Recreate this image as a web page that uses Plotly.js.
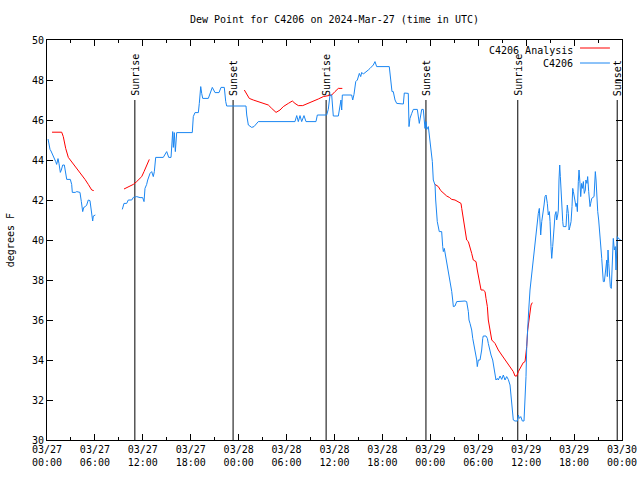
<!DOCTYPE html>
<html>
<head>
<meta charset="utf-8">
<script src="https://cdn.plot.ly/plotly-3.0.1.min.js"></script>
<style>html,body{margin:0;padding:0;background:#fff}#chart{width:640px;height:480px}</style>
</head>
<body>
<div id="chart"></div>
<script>
// Hours since 2024-03-27 00:00 UTC
const tickHours = [0,6,12,18,24,30,36,42,48,54,60,66,72];
const tickLabels = ["03/27<br>00:00","03/27<br>06:00","03/27<br>12:00","03/27<br>18:00",
  "03/28<br>00:00","03/28<br>06:00","03/28<br>12:00","03/28<br>18:00",
  "03/29<br>00:00","03/29<br>06:00","03/29<br>12:00","03/29<br>18:00","03/30<br>00:00"];

const eventHours = [11.0, 23.3, 34.95, 47.45, 58.95, 71.4];
const eventLabels = ["Sunrise","Sunset","Sunrise","Sunset","Sunrise","Sunset"];

const analysisHours = [0.63,1.84,2.04,2.34,2.67,3.09,3.51,3.92,4.35,4.76,5.17,5.60,5.85,
  7.5,
  9.64,10.18,10.81,11.23,11.56,11.86,12.15,12.40,12.61,12.81,
  18.0,
  24.71,25.01,25.33,25.83,26.46,27.09,27.71,28.14,28.68,29.18,29.59,30.22,30.72,31.05,31.47,32.02,32.72,33.35,33.97,34.60,35.22,35.65,36.06,36.48,36.98,
  42.0,
  48.59,49.00,49.30,49.63,50.05,50.38,50.68,51.09,51.50,51.84,51.93,52.13,52.34,52.55,52.76,52.97,53.18,53.38,53.72,53.88,54.13,54.35,54.63,54.85,54.97,55.14,55.26,55.47,55.69,56.10,56.51,56.94,57.35,57.64,57.98,58.39,58.60,58.82,59.02,59.32,59.64,59.86,60.07,60.19,60.36,60.48,60.61,60.77];
const analysisValues = [45.39,45.39,45.17,44.58,44.13,43.92,43.67,43.47,43.25,43.03,42.78,42.50,42.47,
  null,
  42.55,42.67,42.78,42.92,43.03,43.17,43.42,43.67,43.92,44.03,
  null,
  47.50,47.30,47.08,47.00,46.92,46.83,46.75,46.58,46.38,46.50,46.67,46.83,46.95,46.83,46.72,46.72,46.83,46.95,47.05,47.17,47.22,47.25,47.42,47.58,47.58,
  null,
  42.78,42.67,42.47,42.33,42.20,42.13,42.03,42.00,41.92,41.83,41.58,41.08,40.67,40.00,39.92,39.67,39.33,39.00,38.92,38.50,38.00,37.50,37.50,37.42,37.08,36.67,36.00,35.42,35.00,34.83,34.50,34.25,34.00,33.83,33.67,33.42,33.20,33.20,33.42,33.67,33.87,33.92,34.67,35.50,36.00,36.50,36.75,36.87];

const obsHours = [0.13,0.21,0.38,0.50,0.71,0.88,1.09,1.21,1.38,1.50,1.67,1.79,1.97,2.17,2.29,2.47,2.92,3.09,3.17,3.54,3.72,4.13,4.30,4.47,4.60,4.80,4.97,5.17,5.38,5.55,5.72,5.80,6.05,
  7.5,
  9.43,9.64,9.98,10.18,10.61,10.81,11.23,11.65,11.98,12.15,12.27,12.48,12.61,12.90,13.11,13.31,13.44,13.61,14.15,14.56,14.99,15.24,15.53,15.61,15.74,15.82,15.94,16.07,16.24,18.19,18.32,18.53,18.95,19.07,19.16,19.25,19.37,19.50,20.20,20.41,20.70,21.04,21.54,21.79,22.20,22.38,22.50,
  24.92,25.01,25.21,25.63,25.92,26.17,26.46,31.05,31.27,31.47,31.68,31.89,32.18,32.43,33.68,33.85,35.02,35.22,35.44,35.65,35.85,36.48,36.69,36.81,36.90,36.98,
  38.15,38.28,38.44,38.66,38.86,38.98,39.11,39.28,39.41,39.61,39.91,40.23,40.45,40.66,40.86,41.07,41.28,42.86,42.95,43.08,43.20,43.36,43.58,43.79,44.20,44.62,44.74,45.24,45.33,45.45,45.67,45.87,46.37,46.50,46.62,46.80,46.92,47.12,47.21,47.33,47.46,47.55,47.75,
  47.96,48.08,48.25,48.37,48.59,48.67,48.80,48.87,49.12,49.42,49.55,49.63,49.75,49.93,50.05,50.25,50.38,50.55,50.68,50.80,50.88,51.09,51.30,52.34,52.55,52.76,52.84,52.97,53.18,53.31,53.47,53.72,53.81,53.88,54.01,54.22,54.43,54.56,54.63,54.97,55.14,55.26,55.47,55.60,55.81,55.97,56.10,56.22,56.39,56.51,56.73,56.94,57.14,57.35,57.56,57.76,57.98,58.10,58.27,58.39,58.60,58.89,59.02,59.14,59.32,59.52,59.73,59.86,59.98,60.07,60.19,60.32,60.48,60.69,60.90,61.11,61.32,61.52,61.65,61.73,61.82,61.95,62.07,62.24,62.36,62.49,62.65,62.77,62.90,62.99,63.11,63.20,63.32,63.49,63.61,63.74,63.82,63.95,64.03,64.11,64.20,64.28,64.45,64.58,64.65,64.99,65.08,65.15,65.28,65.37,65.49,65.62,65.74,65.83,65.91,65.99,66.12,66.24,66.33,66.41,66.53,66.62,66.74,66.83,66.95,67.08,67.16,67.28,67.41,67.48,67.61,67.70,67.83,67.91,68.00,68.08,68.21,68.50,68.58,68.66,68.75,68.83,68.96,69.08,69.21,69.33,69.46,69.58,69.66,69.79,69.87,70.00,70.09,70.16,70.25,70.34,70.41,70.54,70.66,70.79,70.91,71.04,71.16,71.25,71.33,71.41,71.54,71.84];
const obsValues = [45.05,44.87,44.53,44.45,44.28,44.07,43.92,43.78,44.07,43.83,43.38,43.50,43.75,43.75,43.42,43.03,43.03,42.78,42.38,42.38,42.42,42.38,41.92,41.42,41.63,41.67,41.75,42.00,41.97,41.33,40.95,41.20,41.25,
  null,
  41.53,41.83,41.83,42.00,42.00,42.13,42.17,42.12,42.12,41.92,42.58,42.78,43.00,43.33,43.42,43.17,43.42,44.13,44.13,44.13,44.42,44.13,44.13,44.92,45.42,44.63,45.37,44.42,45.37,45.37,46.17,46.37,46.37,46.83,47.17,47.67,47.33,47.08,47.08,47.33,47.63,47.37,47.37,47.63,47.63,46.92,46.70,
  46.70,46.25,45.75,45.63,45.67,45.78,45.92,45.92,46.22,45.92,46.22,45.92,46.22,45.92,45.92,46.25,46.25,46.53,47.25,47.25,46.20,46.20,46.67,47.00,46.50,47.25,
  47.25,47.00,47.28,47.92,48.00,48.17,48.33,48.17,48.38,48.30,48.42,48.50,48.58,48.67,48.75,48.92,48.67,48.67,48.33,47.83,47.42,47.42,47.00,46.83,46.83,46.80,47.35,47.33,45.67,46.08,46.33,46.53,46.53,46.25,45.83,46.25,46.53,46.53,46.17,45.58,45.92,45.53,45.67,
  45.00,44.42,43.92,43.00,42.75,42.00,41.42,40.92,40.42,40.42,39.67,39.42,39.58,39.17,38.75,38.50,38.00,37.67,37.42,37.00,36.67,36.70,36.92,36.95,36.92,36.42,36.00,35.83,35.50,35.08,34.75,34.33,34.00,33.67,34.00,34.00,34.50,35.08,35.20,35.20,35.08,34.83,34.42,34.25,34.00,33.67,33.25,33.00,33.08,33.00,33.20,33.03,33.25,33.00,33.17,33.03,32.75,32.17,31.50,31.00,30.95,30.95,31.25,31.08,31.17,30.95,30.95,31.83,33.17,34.67,35.83,36.50,37.50,38.30,38.90,39.70,40.45,41.33,41.58,40.92,40.25,40.92,41.42,41.75,42.17,42.25,41.83,41.25,41.42,40.92,39.67,39.08,39.67,40.58,41.25,41.42,41.00,41.25,41.50,43.00,43.75,43.17,41.33,40.92,40.67,40.67,41.33,41.75,41.33,40.50,40.67,40.92,41.67,42.58,42.42,42.25,42.00,41.67,41.83,41.42,42.92,43.50,42.83,42.17,42.83,42.58,42.92,42.33,42.50,43.00,42.83,43.17,42.42,42.00,41.67,41.83,42.08,42.17,43.00,43.42,43.00,42.08,41.42,41.00,40.50,39.75,39.08,38.25,37.92,37.92,38.33,39.00,39.00,38.17,39.50,38.83,38.08,37.67,37.58,39.00,40.08,39.50,39.67,38.50,39.50,40.17,40.08,40.00];

const FONT = "DejaVu Sans Mono, monospace";
const FS = 10;
const BLUE = "#1a86f2";
const RED = "#ff0000";

// event lines built from event arrays
const evX = [], evY = [];
eventHours.forEach(h => { evX.push(h, h, null); evY.push(30, 47, null); });

const traces = [
  {x: evX, y: evY, mode: "lines", line: {color: "#000", width: 1}, hoverinfo: "skip", showlegend: false},
  {x: analysisHours, y: analysisValues, mode: "lines", name: "C4206 Analysis", line: {color: RED, width: 1}, showlegend: false},
  {x: obsHours, y: obsValues, mode: "lines", name: "C4206", line: {color: BLUE, width: 1}, showlegend: false}
];

const annotations = eventLabels.map((t, i) => ({
  x: eventHours[i], y: 47, xref: "x", yref: "y", text: t, showarrow: false,
  textangle: -90, xanchor: "center", yanchor: "bottom", yshift: 2,
  font: {family: FONT, size: FS, color: "#000"}
}));
annotations.push(
  {x: 0.919, y: 0.975, xref: "paper", yref: "paper", text: "C4206 Analysis", showarrow: false,
   xanchor: "right", yanchor: "middle", font: {family: FONT, size: FS, color: "#000"}},
  {x: 0.919, y: 0.9425, xref: "paper", yref: "paper", text: "C4206", showarrow: false,
   xanchor: "right", yanchor: "middle", font: {family: FONT, size: FS, color: "#000"}},
  {x: -0.064, y: 0.5, xref: "paper", yref: "paper", text: "degrees F", showarrow: false,
   textangle: -90, xanchor: "center", yanchor: "middle", font: {family: FONT, size: FS, color: "#000"}}
);

const layout = {
  width: 640, height: 480,
  margin: {l: 47, r: 18, t: 40, b: 40, pad: 0},
  paper_bgcolor: "#fff", plot_bgcolor: "#fff",
  font: {family: FONT, size: FS, color: "#000"},
  title: {text: "Dew Point for C4206 on 2024-Mar-27 (time in UTC)", x: 0.5, xref: "paper",
          y: 0.96, yref: "container", xanchor: "center", yanchor: "middle",
          font: {family: FONT, size: FS, color: "#000"}},
  xaxis: {range: [0, 72], tickmode: "array", tickvals: tickHours, ticktext: tickLabels,
          ticks: "inside", ticklen: 6, tickcolor: "#000", showline: true, linecolor: "#000", linewidth: 1,
          mirror: "allticks", showgrid: false, zeroline: false,
          minor: {dtick: 3, tick0: 0, ticks: "inside", ticklen: 3, tickcolor: "#000", showgrid: false},
          tickfont: {family: FONT, size: FS, color: "#000"}},
  yaxis: {range: [30, 50], tickmode: "linear", tick0: 30, dtick: 2,
          ticks: "inside", ticklen: 6, tickcolor: "#000", showline: true, linecolor: "#000", linewidth: 1,
          mirror: "allticks", showgrid: false, zeroline: false,
          tickfont: {family: FONT, size: FS, color: "#000"}},
  shapes: [
    {type: "line", xref: "paper", yref: "paper", x0: 0.927, x1: 0.979, y0: 0.98, y1: 0.98, line: {color: RED, width: 1}},
    {type: "line", xref: "paper", yref: "paper", x0: 0.927, x1: 0.979, y0: 0.9425, y1: 0.9425, line: {color: BLUE, width: 1}}
  ],
  annotations: annotations,
  showlegend: false
};

Plotly.newPlot("chart", traces, layout, {displayModeBar: false, staticPlot: true});
</script>
</body>
</html>
